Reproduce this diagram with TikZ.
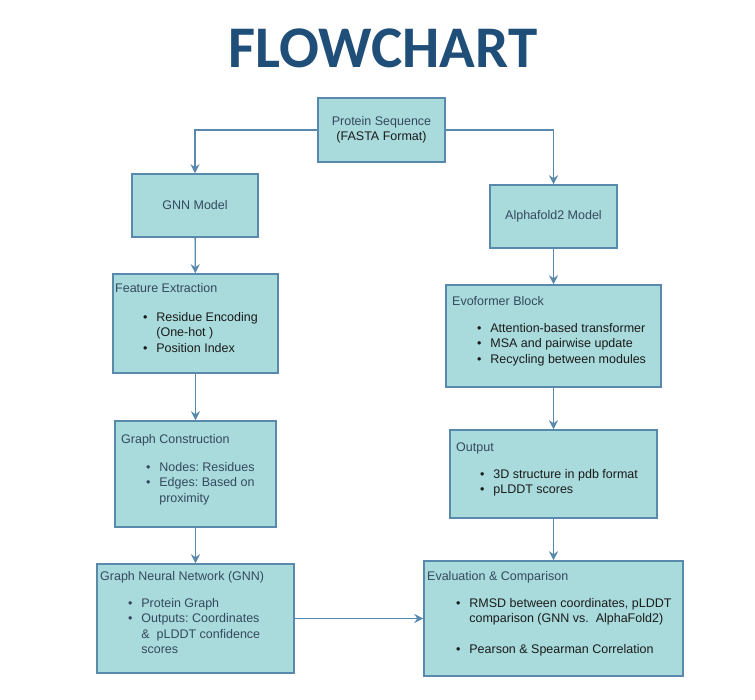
\documentclass[tikz,border=0pt]{standalone}
\usepackage{fontspec}
\setmainfont{Liberation Sans}
\newfontfamily\titlefont{Carlito}
\usetikzlibrary{arrows.meta}
\frenchspacing

\definecolor{BoxFill}{HTML}{A9DBDC}
\definecolor{BoxLine}{HTML}{5A89AE}
\definecolor{Head}{HTML}{34495E}
\definecolor{Body}{HTML}{1A1A1A}
\definecolor{Title}{HTML}{1F4E79}

\tikzset{
  box/.style={rectangle, draw=BoxLine, fill=BoxFill, line width=1.5pt, inner sep=0pt},
  link/.style={draw=BoxLine, line width=1.3pt, -{Stealth[length=9pt, width=9pt, inset=3pt]}},
  txt/.style={inner sep=0pt, anchor=base west, font=\fontsize{12.5}{15.3}\selectfont\frenchspacing},
}

\begin{document}
\begin{tikzpicture}[x=1pt, y=-1pt]

 \useasboundingbox (0,0) rectangle (755,699);

 %%%%%%%%%% Centres of the boxes %%%%%%%%%%
 \coordinate (c0) at (381.5,130);
 \coordinate (c1) at (195,205.5);
 \coordinate (c2) at (553.5,216.5);
 \coordinate (c3) at (195.5,323.5);
 \coordinate (c4) at (553.5,336);
 \coordinate (c5) at (195.5,474);
 \coordinate (c6) at (553.5,474);
 \coordinate (c7) at (195.5,618.5);
 \coordinate (c8) at (553.5,618.5);

 %%%%%%%%%% Title %%%%%%%%%%
 \node[anchor=base, inner sep=0pt, text=Title, font=\titlefont\bfseries\fontsize{59}{60}\selectfont] (title) at (383,67) {FLOWCHART};

 %%%%%%%%%% Boxes %%%%%%%%%%
 \node[box, minimum width=127pt, minimum height=64pt, align=center, font=\fontsize{12.5}{15.3}\selectfont] (seq) at (c0)
   {\textcolor{Head}{Protein Sequence}\\\textcolor{Body}{(FASTA Format)}};
 \node[box, minimum width=126pt, minimum height=63pt, text=Head, font=\fontsize{12.5}{15.3}\selectfont] (gnnm) at (c1) {GNN Model};
 \node[box, minimum width=127pt, minimum height=63pt, text=Head, font=\fontsize{12.5}{15.3}\selectfont] (alpha) at (c2) {Alphafold2 Model};
 \node[box, minimum width=165pt, minimum height=99pt] (feat) at (c3) {};
 \node[box, minimum width=215pt, minimum height=102pt] (evo) at (c4) {};
 \node[box, minimum width=161pt, minimum height=106pt] (graph) at (c5) {};
 \node[box, minimum width=207pt, minimum height=88pt] (outp) at (c6) {};
 \node[box, minimum width=197pt, minimum height=109pt] (gnn) at (c7) {};
 \node[box, minimum width=259pt, minimum height=115pt] (eval) at (c8) {};

 %%%%%%%%%% Texts in the boxes %%%%%%%%%%
 \node[txt, text=Head] (feathead) at (115,292.5) {Feature Extraction};
 \node[txt, text=Body] (featlist) at (142.8,321.5) {\begin{tabular}[t]{@{}l@{\hspace{9pt}}l@{}}
   \textbullet & Residue Encoding\\ & (One-hot )\\ \textbullet & Position Index\end{tabular}};

 \node[txt, text=Head] (evohead) at (452,305.5) {Evoformer Block};
 \node[txt, text=Body] (evolist) at (476.8,332.5) {\begin{tabular}[t]{@{}l@{\hspace{9pt}}l@{}}
   \textbullet & Attention-based transformer\\ \textbullet & MSA and pairwise update\\
   \textbullet & Recycling between modules\end{tabular}};

 \node[txt, text=Head] (graphhead) at (121,443.5) {Graph Construction};
 \node[txt, text=Head] (graphlist) at (145.8,471.5) {\begin{tabular}[t]{@{}l@{\hspace{9pt}}l@{}}
   \textbullet & Nodes: Residues\\ \textbullet & Edges: Based on\\ & proximity\end{tabular}};

 \node[txt, text=Head] (outphead) at (456,451.5) {Output};
 \node[txt, text=Body] (outplist) at (479.8,478.5) {\begin{tabular}[t]{@{}l@{\hspace{9pt}}l@{}}
   \textbullet & 3D structure in pdb format\\ \textbullet & pLDDT scores\end{tabular}};

 \node[txt, text=Head] (gnnhead) at (100,580.5) {Graph Neural Network (GNN)};
 \node[txt, text=Head] (gnnlist) at (127.8,607.5) {\begin{tabular}[t]{@{}l@{\hspace{9pt}}l@{}}
   \textbullet & Protein Graph\\ \textbullet & Outputs: Coordinates\\
   & \&\ \ pLDDT confidence\\ & scores\end{tabular}};

 \node[txt, text=Head] (evalhead) at (427,580.5) {Evaluation \& Comparison};
 \node[txt, text=Body] (evallist) at (455.8,607.5) {\begin{tabular}[t]{@{}l@{\hspace{9pt}}l@{}}
   \textbullet & RMSD between coordinates, pLDDT\\ & comparison (GNN vs.\ \ AlphaFold2)\\
   & \\ \textbullet & Pearson \& Spearman Correlation\end{tabular}};

 %%%%%%%%%% Connectors %%%%%%%%%%
 \draw[link] (seq.west) -| (gnnm.north);
 \draw[link] (seq.east) -| (alpha.north);
 \draw[link] (gnnm) -- (feat);
 \draw[link] (feat) -- (graph);
 \draw[link] (graph) -- (gnn);
 \draw[link] (alpha) -- (evo);
 \draw[link] (evo) -- (outp);
 \draw[link] (outp) -- (eval);
 \draw[link] (gnn) -- (eval);

\end{tikzpicture}
\end{document}
